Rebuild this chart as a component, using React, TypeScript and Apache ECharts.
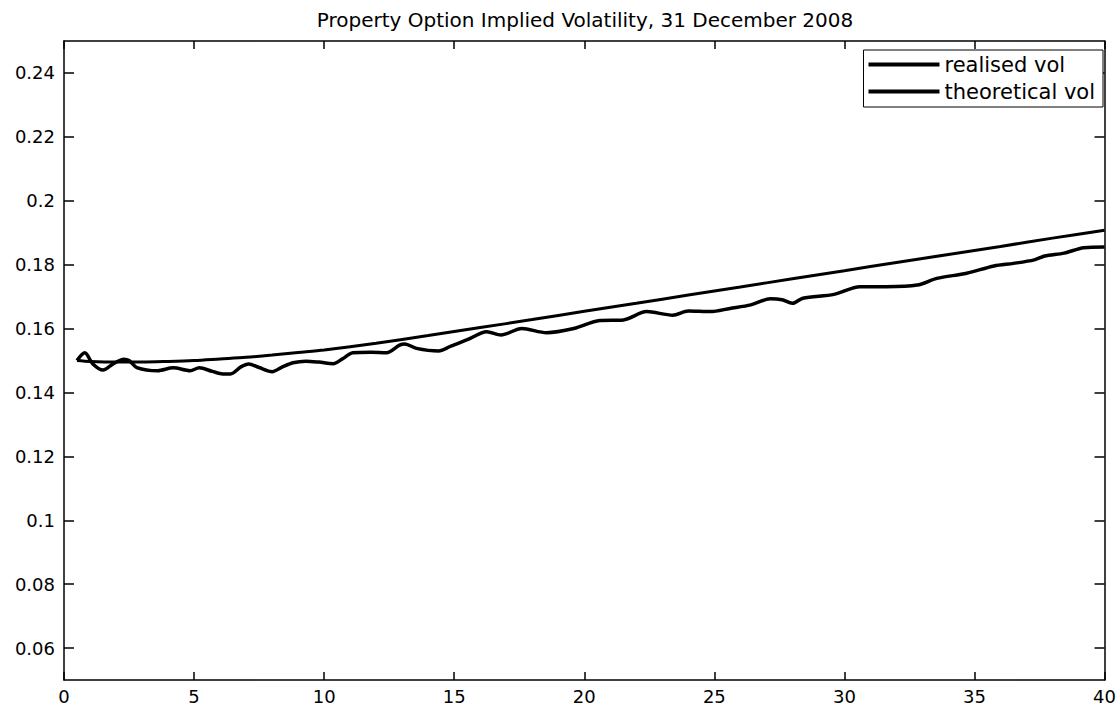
import React, { useEffect, useRef } from "react";
import * as echarts from "echarts";

// Time to maturity (years) and implied volatility for each curve
const realisedX = [
  0.5, 0.8, 1.1, 1.5, 1.9, 2.3, 2.5, 2.8, 3.6, 4.2, 4.85, 5.2, 5.7, 6.1, 6.4,
  6.8, 7.1, 7.5, 8.0, 8.4, 8.8, 9.3, 9.8, 10.35, 10.7, 11.1, 11.8, 12.4, 12.9,
  13.1, 13.55, 14.4, 14.85, 15.5, 16.25, 16.8, 17.6, 18.55, 19.6, 20.6, 21.5,
  22.4, 23.4, 24.0, 24.85, 25.6, 26.4, 27.15, 27.6, 28.0, 28.4, 29.6, 30.6,
  31.6, 32.8, 33.55, 34.7, 35.75, 36.5, 37.3, 37.7, 38.45, 39.2, 40,
];
const realisedVol = [
  0.15, 0.1524, 0.149, 0.147, 0.149, 0.1504, 0.15, 0.1478, 0.1468, 0.1477,
  0.1468, 0.1477, 0.1466, 0.1458, 0.1458, 0.148, 0.1489, 0.1478, 0.1465,
  0.148, 0.1493, 0.1498, 0.1495, 0.149, 0.1505, 0.1524, 0.1526, 0.1524,
  0.1548, 0.1552, 0.1538, 0.153, 0.1544, 0.1565, 0.159, 0.158, 0.16, 0.1587,
  0.16, 0.1625, 0.1627, 0.1653, 0.1642, 0.1655, 0.1653, 0.1663, 0.1674,
  0.1693, 0.169, 0.1679, 0.1695, 0.1707, 0.1731, 0.1731, 0.1736, 0.1757,
  0.1773, 0.1796, 0.1804, 0.1815, 0.1827, 0.1836, 0.1853, 0.1855,
];

const theoreticalX = [
  0.5, 1, 2, 3, 4, 5, 6, 7, 8, 9, 10, 12, 14, 16, 18, 20, 22, 24, 26, 28, 30,
  32, 34, 36, 38, 40,
];
const theoreticalVol = [
  0.15, 0.1497, 0.1495, 0.1495, 0.1497, 0.15, 0.1505, 0.151, 0.1517, 0.1525,
  0.1533, 0.1554, 0.1578, 0.1603, 0.1628, 0.1654, 0.1679, 0.1705, 0.173,
  0.1756, 0.1781, 0.1807, 0.1832, 0.1857, 0.1883, 0.1908,
];

const yTickValues = [0.06, 0.08, 0.1, 0.12, 0.14, 0.16, 0.18, 0.2, 0.22, 0.24];

const titleText = "Property Option Implied Volatility, 31 December 2008";
const seriesNames = ["realised vol", "theoretical vol"];

const FONT = "DejaVu Sans";
const INK = "#000";

const zip = (xs: number[], ys: number[]) => xs.map((x, i) => [x, ys[i]]);
const fmtY = (v: number) => String(Number(v.toFixed(2)));

export default function App() {
  const ref = useRef<HTMLDivElement>(null);

  useEffect(() => {
    if (!ref.current) return;
    const chart = echarts.init(ref.current, undefined, { renderer: "svg" });

    const xBase = {
      type: "value" as const,
      min: 0,
      max: 40,
      interval: 5,
      splitLine: { show: false },
      axisLine: { lineStyle: { color: INK, width: 1.5 } },
      axisTick: { inside: true, length: 8, lineStyle: { color: INK, width: 1.5 } },
    };
    const yBase = {
      type: "value" as const,
      min: 0.05,
      max: 0.25,
      splitLine: { show: false },
      axisLine: { onZero: false, lineStyle: { color: INK, width: 1.5 } },
      axisTick: {
        inside: true,
        length: 10,
        customValues: yTickValues,
        lineStyle: { color: INK, width: 1.5 },
      },
    };

    chart.setOption({
      animation: false,
      backgroundColor: "#fff",
      title: {
        text: titleText,
        left: 585,
        textAlign: "center",
        top: 10,
        padding: 0,
        textStyle: { fontFamily: FONT, fontSize: 20, fontWeight: "normal", color: INK },
      },
      legend: {
        data: seriesNames,
        orient: "vertical",
        right: 16,
        top: 50,
        padding: [4, 8, 5, 5],
        itemGap: 6,
        itemWidth: 71,
        itemHeight: 4,
        icon: "rect",
        borderColor: INK,
        borderWidth: 1,
        backgroundColor: "#fff",
        textStyle: { fontFamily: FONT, fontSize: 21, color: INK },
      },
      grid: { left: 64, right: 14, top: 41, bottom: 30, containLabel: false },
      xAxis: [
        {
          ...xBase,
          position: "bottom",
          axisLabel: {
            fontFamily: FONT,
            fontSize: 18,
            color: INK,
            margin: 7,
            formatter: (v: number) => String(v),
          },
        },
        { ...xBase, position: "top", axisLabel: { show: false } },
      ],
      yAxis: [
        {
          ...yBase,
          position: "left",
          axisLabel: {
            fontFamily: FONT,
            fontSize: 18,
            color: INK,
            margin: 9,
            customValues: yTickValues,
            formatter: (v: number) => fmtY(v),
          },
        },
        { ...yBase, position: "right", axisLabel: { show: false } },
      ],
      series: [
        {
          name: seriesNames[0],
          type: "line",
          data: zip(realisedX, realisedVol),
          showSymbol: false,
          smooth: 0.3,
          lineStyle: { color: INK, width: 3.5 },
          itemStyle: { color: INK },
        },
        {
          name: seriesNames[1],
          type: "line",
          data: zip(theoreticalX, theoreticalVol),
          showSymbol: false,
          smooth: 0.3,
          lineStyle: { color: INK, width: 3 },
          itemStyle: { color: INK },
        },
      ],
    });

    return () => chart.dispose();
  }, []);

  return (
    <div
      ref={ref}
      style={{ position: "fixed", left: 0, top: 0, width: 1119, height: 710, background: "#fff" }}
    />
  );
}
